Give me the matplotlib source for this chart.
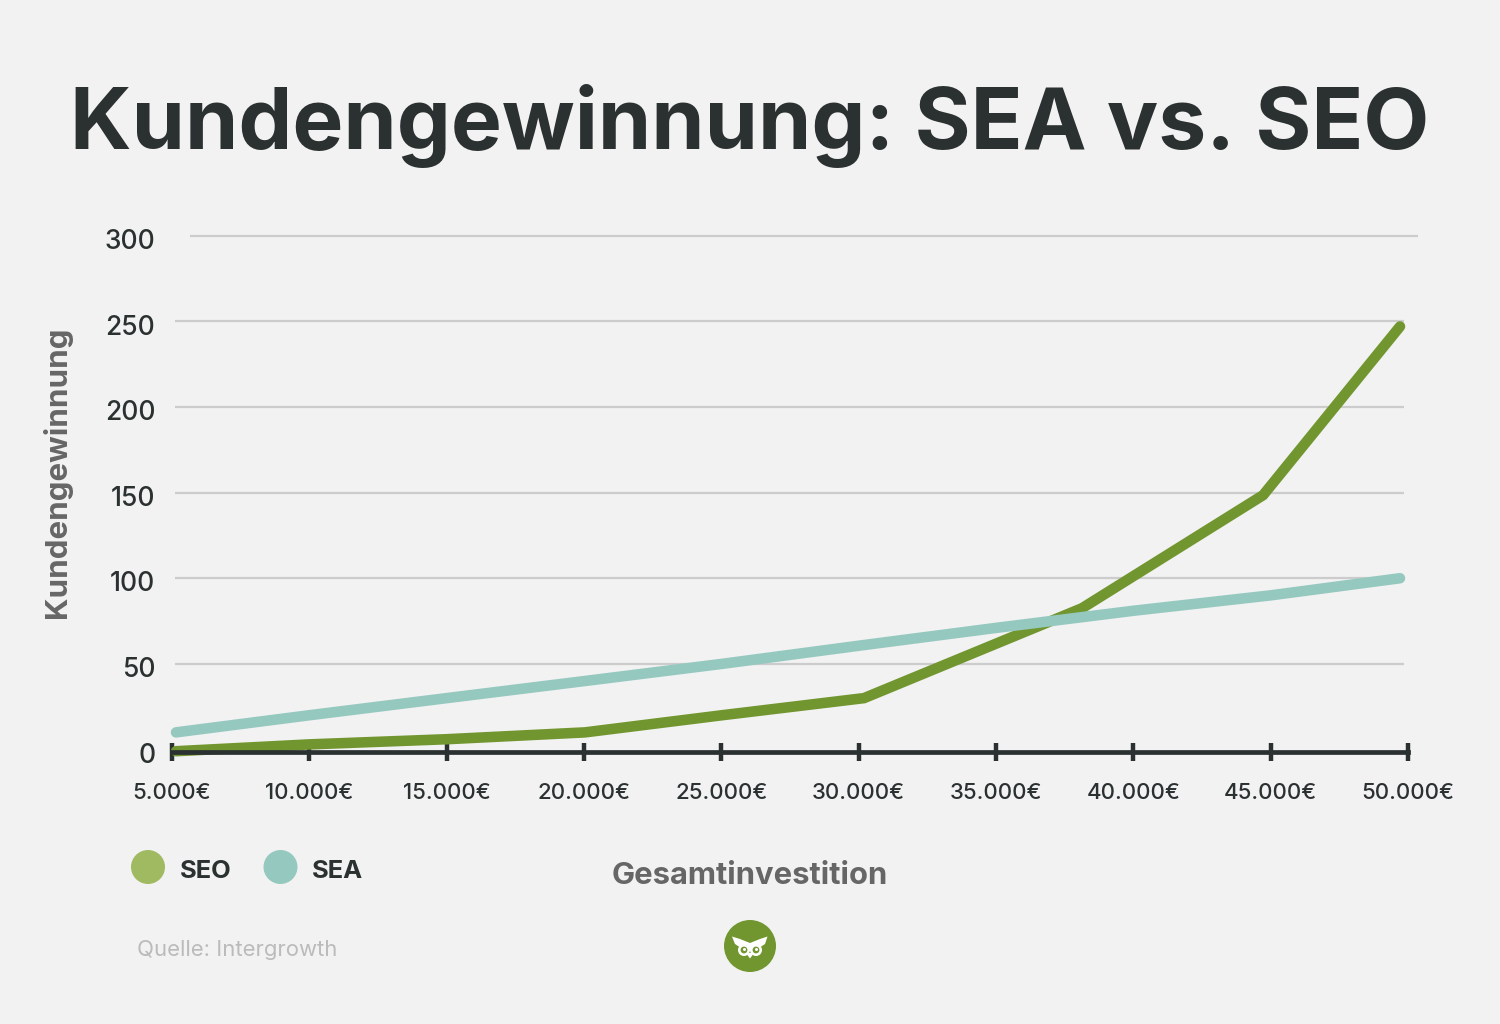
"""Kundengewinnung: SEA vs. SEO line chart."""
import matplotlib
matplotlib.use("Agg")
import matplotlib.pyplot as plt
from matplotlib.patches import Circle, Polygon
from matplotlib.transforms import ScaledTranslation

FONT = ["Inter", "DejaVu Sans"]
BG = "#F2F2F2"
DARK = "#2B3030"
GREY = "#666666"
SEO_LINE = "#72962F"
SEO_DOT = "#A0BA62"
SEA_COL = "#95C9C0"

seo_x = [5146, 10024, 15000, 20037, 25025, 30196, 38133, 44724, 49709]
seo_y = [-1, 3, 6, 10, 20, 30, 82.5, 148.5, 247]
sea_x = [5146, 10000, 15000, 20037, 25025, 30196, 35000, 40000, 45000, 49709]
sea_y = [10, 20, 30, 40, 50, 61, 71, 81, 90, 100]
x_ticks = [5000, 10000, 15000, 20000, 25000, 30000, 35000, 40000, 45000, 50000]
x_labels = ["5.000€", "10.000€", "15.000€", "20.000€", "25.000€",
            "30.000€", "35.000€", "40.000€", "45.000€", "50.000€"]
y_ticks = [0, 50, 100, 150, 200, 250, 300]

plt.rcParams["font.family"] = FONT

W, H = 1500, 1024
fig = plt.figure(figsize=(W / 100, H / 100), dpi=100, facecolor=BG)

# main axes, placed by pixel so the ticks land where they should
ax = fig.add_axes([172 / W, (H - 749.5) / H, (1408 - 172) / W, (749.5 - 235.7) / H])
ax.set_facecolor("none")
ax.set_xlim(5000, 50000)
ax.set_ylim(0, 300)

# gridlines stop short of the axis ends, the top one is shifted right
for v in y_ticks[1:-1]:
    ax.hlines(v, 5100, 49840, color="#CCCCCC", lw=1.6, zorder=1)
ax.hlines(300, 5650, 50370, color="#CCCCCC", lw=1.6, zorder=1, clip_on=False)

ax.plot(seo_x, seo_y, color=SEO_LINE, lw=7.6, solid_capstyle="round",
        solid_joinstyle="miter", clip_on=False, zorder=3)
ax.plot(sea_x, sea_y, color=SEA_COL, lw=7.6, solid_capstyle="round",
        solid_joinstyle="round", clip_on=False, zorder=4)

for side in ["top", "left", "right"]:
    ax.spines[side].set_visible(False)
ax.spines["bottom"].set_position(("outward", 1.5))
ax.spines["bottom"].set_color(DARK)
ax.spines["bottom"].set_linewidth(3.4)
ax.spines["bottom"].set_zorder(5)

ax.set_xticks(x_ticks)
ax.set_xticklabels(x_labels, fontsize=16, fontweight="medium", color=DARK)
ax.tick_params(axis="x", direction="inout", length=13.5, width=3.2, color=DARK, pad=16)
ax.set_yticks(y_ticks)
ax.set_yticklabels([str(v) for v in y_ticks], fontsize=19, fontweight="medium", color=DARK)
ax.tick_params(axis="y", length=0, pad=12)
for lab in ax.get_yticklabels():
    lab.set_transform(lab.get_transform() + ScaledTranslation(0, -2.3 / 72, fig.dpi_scale_trans))

# overlay in pixel coordinates for title, legend and logo
ov = fig.add_axes([0, 0, 1, 1])
ov.set_xlim(0, W)
ov.set_ylim(H, 0)
ov.axis("off")

ov.text(750, 126, "Kundengewinnung: SEA vs. SEO", ha="center", va="center",
        fontsize=61.7, fontweight="bold", color=DARK)
ov.text(57, 472, "Kundengewinnung", rotation=90, ha="center", va="center",
        fontsize=22.5, fontweight="bold", color=GREY)
ov.text(750, 876, "Gesamtinvestition", ha="center", va="center",
        fontsize=22.3, fontweight="bold", color=GREY)

ov.add_patch(Circle((148, 867), 17, color=SEO_DOT, lw=0))
ov.text(180, 871, "SEO", ha="left", va="center", fontsize=18.4, fontweight="bold", color=DARK)
ov.add_patch(Circle((280.5, 867), 17, color=SEA_COL, lw=0))
ov.text(312, 871, "SEA", ha="left", va="center", fontsize=18.4, fontweight="bold", color=DARK)

ov.text(137, 950, "Quelle: Intergrowth", ha="left", va="center", fontsize=15.9, color="#BBBBBB")

# owl logo
ov.add_patch(Circle((750, 946), 26, color=SEO_LINE, lw=0))
ov.add_patch(Polygon([(732, 936.5), (740, 939), (750, 943), (760, 939), (767.5, 936.5),
                      (765, 944), (759, 948), (752, 948), (750, 951), (748, 948),
                      (741, 948), (735, 944)], color="white", lw=0))
ov.add_patch(Polygon([(746, 953), (754, 953), (750, 958.5)], color="white", lw=0))
for cx in (744, 756):
    ov.add_patch(Circle((cx, 950), 6, color="white", lw=0))
    ov.add_patch(Circle((cx, 950), 3.4, color=SEO_LINE, lw=0))
    ov.add_patch(Circle((cx + 0.5, 949.5), 1.5, color="white", lw=0))

fig.savefig("out.png", dpi=100, facecolor=BG)
